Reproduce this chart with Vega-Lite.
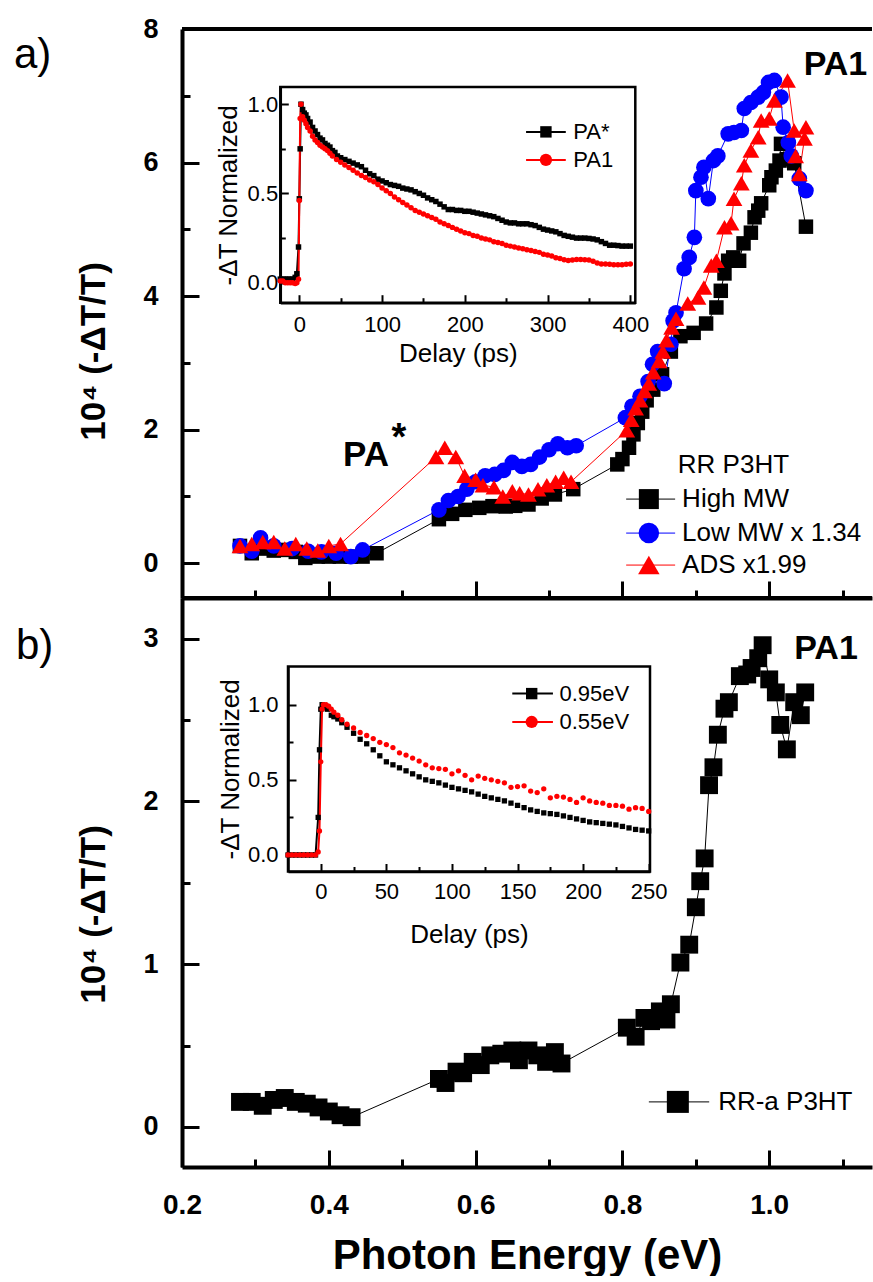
{
"$schema":"https://vega.github.io/schema/vega-lite/v6.json",
"background":"white",
"padding":{"left":13,"top":15,"right":0,"bottom":0},
"bounds":"flush",
"spacing":0,
"resolve":{"scale":{"color":"independent","shape":"independent","size":"independent"}},
"config":{"view":{"stroke":null},"font":"Liberation Sans","axis":{"grid":false,"domainColor":"black","tickColor":"black","labelColor":"black","titleColor":"black","labelFlush":false,"labelOverlap":false,"labelFont":"Liberation Sans","titleFont":"Liberation Sans"}},
"datasets":{
"mainA":[
{"s":"High MW","E":0.279,"v":0.26},{"s":"High MW","E":0.295,"v":0.15},{"s":"High MW","E":0.31,"v":0.22},{"s":"High MW","E":0.325,"v":0.19},{"s":"High MW","E":0.34,"v":0.2},{"s":"High MW","E":0.355,"v":0.17},{"s":"High MW","E":0.368,"v":0.08},{"s":"High MW","E":0.385,"v":0.1},{"s":"High MW","E":0.4,"v":0.1},{"s":"High MW","E":0.415,"v":0.1},{"s":"High MW","E":0.43,"v":0.1},{"s":"High MW","E":0.446,"v":0.1},{"s":"High MW","E":0.465,"v":0.15},{"s":"High MW","E":0.55,"v":0.66},{"s":"High MW","E":0.568,"v":0.74},{"s":"High MW","E":0.586,"v":0.8},{"s":"High MW","E":0.605,"v":0.83},{"s":"High MW","E":0.623,"v":0.855},{"s":"High MW","E":0.641,"v":0.85},{"s":"High MW","E":0.654,"v":0.86},{"s":"High MW","E":0.672,"v":0.88},{"s":"High MW","E":0.69,"v":0.97},{"s":"High MW","E":0.708,"v":1.03},{"s":"High MW","E":0.733,"v":1.11},{"s":"High MW","E":0.793,"v":1.48},{"s":"High MW","E":0.8,"v":1.56},{"s":"High MW","E":0.809,"v":1.73},{"s":"High MW","E":0.815,"v":1.93},{"s":"High MW","E":0.821,"v":2.1},{"s":"High MW","E":0.827,"v":2.27},{"s":"High MW","E":0.833,"v":2.44},{"s":"High MW","E":0.842,"v":2.6},{"s":"High MW","E":0.854,"v":2.83},{"s":"High MW","E":0.866,"v":3.17},{"s":"High MW","E":0.879,"v":3.4},{"s":"High MW","E":0.897,"v":3.45},{"s":"High MW","E":0.914,"v":3.59},{"s":"High MW","E":0.928,"v":3.83},{"s":"High MW","E":0.934,"v":4.08},{"s":"High MW","E":0.939,"v":4.34},{"s":"High MW","E":0.944,"v":4.53},{"s":"High MW","E":0.951,"v":4.58},{"s":"High MW","E":0.959,"v":4.53},{"s":"High MW","E":0.965,"v":4.79},{"s":"High MW","E":0.975,"v":4.95},{"s":"High MW","E":0.98,"v":5.18},{"s":"High MW","E":0.985,"v":5.28},{"s":"High MW","E":0.989,"v":5.39},{"s":"High MW","E":1.0,"v":5.66},{"s":"High MW","E":1.003,"v":5.78},{"s":"High MW","E":1.009,"v":5.88},{"s":"High MW","E":1.014,"v":6.03},{"s":"High MW","E":1.016,"v":6.28},{"s":"High MW","E":1.024,"v":6.05},{"s":"High MW","E":1.034,"v":5.99},{"s":"High MW","E":1.05,"v":5.04},
{"s":"Low MW x 1.34","E":0.279,"v":0.26},{"s":"Low MW x 1.34","E":0.295,"v":0.18},{"s":"Low MW x 1.34","E":0.307,"v":0.38},{"s":"Low MW x 1.34","E":0.325,"v":0.26},{"s":"Low MW x 1.34","E":0.35,"v":0.22},{"s":"Low MW x 1.34","E":0.372,"v":0.18},{"s":"Low MW x 1.34","E":0.39,"v":0.17},{"s":"Low MW x 1.34","E":0.41,"v":0.15},{"s":"Low MW x 1.34","E":0.43,"v":0.1},{"s":"Low MW x 1.34","E":0.446,"v":0.2},{"s":"Low MW x 1.34","E":0.55,"v":0.8},{"s":"Low MW x 1.34","E":0.563,"v":0.94},{"s":"Low MW x 1.34","E":0.576,"v":1.0},{"s":"Low MW x 1.34","E":0.588,"v":1.11},{"s":"Low MW x 1.34","E":0.6,"v":1.22},{"s":"Low MW x 1.34","E":0.613,"v":1.31},{"s":"Low MW x 1.34","E":0.626,"v":1.33},{"s":"Low MW x 1.34","E":0.638,"v":1.39},{"s":"Low MW x 1.34","E":0.65,"v":1.51},{"s":"Low MW x 1.34","E":0.663,"v":1.45},{"s":"Low MW x 1.34","E":0.675,"v":1.48},{"s":"Low MW x 1.34","E":0.687,"v":1.59},{"s":"Low MW x 1.34","E":0.7,"v":1.7},{"s":"Low MW x 1.34","E":0.712,"v":1.79},{"s":"Low MW x 1.34","E":0.725,"v":1.73},{"s":"Low MW x 1.34","E":0.737,"v":1.76},{"s":"Low MW x 1.34","E":0.804,"v":2.18},{"s":"Low MW x 1.34","E":0.813,"v":2.35},{"s":"Low MW x 1.34","E":0.824,"v":2.5},{"s":"Low MW x 1.34","E":0.835,"v":2.72},{"s":"Low MW x 1.34","E":0.841,"v":2.98},{"s":"Low MW x 1.34","E":0.848,"v":3.17},{"s":"Low MW x 1.34","E":0.857,"v":2.69},{"s":"Low MW x 1.34","E":0.866,"v":3.28},{"s":"Low MW x 1.34","E":0.869,"v":3.63},{"s":"Low MW x 1.34","E":0.873,"v":3.75},{"s":"Low MW x 1.34","E":0.884,"v":4.41},{"s":"Low MW x 1.34","E":0.891,"v":4.58},{"s":"Low MW x 1.34","E":0.898,"v":4.88},{"s":"Low MW x 1.34","E":0.9,"v":5.58},{"s":"Low MW x 1.34","E":0.907,"v":5.78},{"s":"Low MW x 1.34","E":0.911,"v":5.93},{"s":"Low MW x 1.34","E":0.917,"v":5.46},{"s":"Low MW x 1.34","E":0.924,"v":6.03},{"s":"Low MW x 1.34","E":0.93,"v":6.1},{"s":"Low MW x 1.34","E":0.944,"v":6.43},{"s":"Low MW x 1.34","E":0.952,"v":6.45},{"s":"Low MW x 1.34","E":0.962,"v":6.48},{"s":"Low MW x 1.34","E":0.966,"v":6.81},{"s":"Low MW x 1.34","E":0.975,"v":6.9},{"s":"Low MW x 1.34","E":0.985,"v":6.98},{"s":"Low MW x 1.34","E":0.992,"v":7.05},{"s":"Low MW x 1.34","E":0.999,"v":7.2},{"s":"Low MW x 1.34","E":1.007,"v":7.23},{"s":"Low MW x 1.34","E":1.016,"v":6.98},{"s":"Low MW x 1.34","E":1.019,"v":6.53},{"s":"Low MW x 1.34","E":1.026,"v":6.3},{"s":"Low MW x 1.34","E":1.03,"v":6.1},{"s":"Low MW x 1.34","E":1.041,"v":5.76},{"s":"Low MW x 1.34","E":1.05,"v":5.58},
{"s":"ADS x1.99","E":0.279,"v":0.26},{"s":"ADS x1.99","E":0.295,"v":0.29},{"s":"ADS x1.99","E":0.31,"v":0.32},{"s":"ADS x1.99","E":0.325,"v":0.32},{"s":"ADS x1.99","E":0.34,"v":0.22},{"s":"ADS x1.99","E":0.355,"v":0.29},{"s":"ADS x1.99","E":0.37,"v":0.22},{"s":"ADS x1.99","E":0.385,"v":0.19},{"s":"ADS x1.99","E":0.4,"v":0.26},{"s":"ADS x1.99","E":0.416,"v":0.29},{"s":"ADS x1.99","E":0.546,"v":1.59},{"s":"ADS x1.99","E":0.558,"v":1.73},{"s":"ADS x1.99","E":0.573,"v":1.59},{"s":"ADS x1.99","E":0.585,"v":1.31},{"s":"ADS x1.99","E":0.6,"v":1.25},{"s":"ADS x1.99","E":0.61,"v":1.17},{"s":"ADS x1.99","E":0.625,"v":1.14},{"s":"ADS x1.99","E":0.637,"v":1.0},{"s":"ADS x1.99","E":0.65,"v":1.08},{"s":"ADS x1.99","E":0.66,"v":1.05},{"s":"ADS x1.99","E":0.672,"v":1.03},{"s":"ADS x1.99","E":0.685,"v":1.11},{"s":"ADS x1.99","E":0.697,"v":1.17},{"s":"ADS x1.99","E":0.709,"v":1.22},{"s":"ADS x1.99","E":0.72,"v":1.28},{"s":"ADS x1.99","E":0.73,"v":1.22},{"s":"ADS x1.99","E":0.806,"v":1.99},{"s":"ADS x1.99","E":0.812,"v":2.15},{"s":"ADS x1.99","E":0.818,"v":2.32},{"s":"ADS x1.99","E":0.824,"v":2.44},{"s":"ADS x1.99","E":0.83,"v":2.58},{"s":"ADS x1.99","E":0.836,"v":2.69},{"s":"ADS x1.99","E":0.842,"v":2.86},{"s":"ADS x1.99","E":0.85,"v":3.03},{"s":"ADS x1.99","E":0.855,"v":3.17},{"s":"ADS x1.99","E":0.86,"v":3.34},{"s":"ADS x1.99","E":0.867,"v":3.53},{"s":"ADS x1.99","E":0.873,"v":3.66},{"s":"ADS x1.99","E":0.889,"v":3.89},{"s":"ADS x1.99","E":0.903,"v":3.98},{"s":"ADS x1.99","E":0.911,"v":4.13},{"s":"ADS x1.99","E":0.921,"v":4.46},{"s":"ADS x1.99","E":0.928,"v":4.53},{"s":"ADS x1.99","E":0.939,"v":5.03},{"s":"ADS x1.99","E":0.948,"v":5.09},{"s":"ADS x1.99","E":0.952,"v":5.46},{"s":"ADS x1.99","E":0.962,"v":5.69},{"s":"ADS x1.99","E":0.966,"v":5.96},{"s":"ADS x1.99","E":0.975,"v":6.18},{"s":"ADS x1.99","E":0.985,"v":6.38},{"s":"ADS x1.99","E":0.989,"v":6.63},{"s":"ADS x1.99","E":1.0,"v":6.66},{"s":"ADS x1.99","E":1.007,"v":6.93},{"s":"ADS x1.99","E":1.025,"v":7.23},{"s":"ADS x1.99","E":1.034,"v":6.48},{"s":"ADS x1.99","E":1.036,"v":6.1},{"s":"ADS x1.99","E":1.041,"v":5.83},{"s":"ADS x1.99","E":1.048,"v":6.36},{"s":"ADS x1.99","E":1.05,"v":6.53}
],
"mainB":[
{"E":0.279,"v":0.154},{"E":0.295,"v":0.154},{"E":0.31,"v":0.13},{"E":0.325,"v":0.166},{"E":0.34,"v":0.178},{"E":0.355,"v":0.154},{"E":0.37,"v":0.143},{"E":0.386,"v":0.12},{"E":0.4,"v":0.095},{"E":0.416,"v":0.072},{"E":0.431,"v":0.06},{"E":0.55,"v":0.295},{"E":0.559,"v":0.27},{"E":0.574,"v":0.34},{"E":0.583,"v":0.33},{"E":0.596,"v":0.4},{"E":0.607,"v":0.38},{"E":0.62,"v":0.44},{"E":0.635,"v":0.45},{"E":0.65,"v":0.47},{"E":0.659,"v":0.41},{"E":0.672,"v":0.47},{"E":0.684,"v":0.44},{"E":0.696,"v":0.4},{"E":0.708,"v":0.46},{"E":0.717,"v":0.39},{"E":0.806,"v":0.61},{"E":0.818,"v":0.555},{"E":0.83,"v":0.67},{"E":0.839,"v":0.65},{"E":0.851,"v":0.71},{"E":0.86,"v":0.66},{"E":0.866,"v":0.754},{"E":0.879,"v":1.01},{"E":0.891,"v":1.12},{"E":0.9,"v":1.35},{"E":0.906,"v":1.51},{"E":0.912,"v":1.65},{"E":0.918,"v":2.1},{"E":0.924,"v":2.21},{"E":0.93,"v":2.41},{"E":0.939,"v":2.57},{"E":0.945,"v":2.61},{"E":0.96,"v":2.77},{"E":0.97,"v":2.78},{"E":0.976,"v":2.82},{"E":0.985,"v":2.88},{"E":0.991,"v":2.96},{"E":1.0,"v":2.75},{"E":1.009,"v":2.67},{"E":1.015,"v":2.47},{"E":1.024,"v":2.32},{"E":1.034,"v":2.61},{"E":1.043,"v":2.53},{"E":1.049,"v":2.67}
],
"insetA":[
{"s":"PA*","t":-23,"v":0.02},{"s":"PA*","t":-20,"v":0.02},{"s":"PA*","t":-17,"v":0.02},{"s":"PA*","t":-14,"v":0.02},{"s":"PA*","t":-11,"v":0.02},{"s":"PA*","t":-8,"v":0.02},{"s":"PA*","t":-5,"v":0.03},{"s":"PA*","t":-3,"v":0.05},{"s":"PA*","t":-1,"v":0.2},{"s":"PA*","t":0,"v":0.47},{"s":"PA*","t":1,"v":0.75},{"s":"PA*","t":2,"v":1.0},{"s":"PA*","t":4,"v":0.97},{"s":"PA*","t":6,"v":0.95},{"s":"PA*","t":8,"v":0.94},{"s":"PA*","t":10,"v":0.92},{"s":"PA*","t":13,"v":0.9},{"s":"PA*","t":16,"v":0.87},{"s":"PA*","t":19,"v":0.85},{"s":"PA*","t":22,"v":0.83},{"s":"PA*","t":25,"v":0.81},{"s":"PA*","t":28,"v":0.8},{"s":"PA*","t":31,"v":0.78},{"s":"PA*","t":34,"v":0.77},{"s":"PA*","t":37,"v":0.76},{"s":"PA*","t":40,"v":0.74},{"s":"PA*","t":43,"v":0.73},{"s":"PA*","t":46,"v":0.71},{"s":"PA*","t":50,"v":0.7},{"s":"PA*","t":55,"v":0.69},{"s":"PA*","t":60,"v":0.68},{"s":"PA*","t":65,"v":0.67},{"s":"PA*","t":70,"v":0.66},{"s":"PA*","t":75,"v":0.65},{"s":"PA*","t":80,"v":0.63},{"s":"PA*","t":85,"v":0.61},{"s":"PA*","t":90,"v":0.6},{"s":"PA*","t":95,"v":0.58},{"s":"PA*","t":100,"v":0.57},{"s":"PA*","t":105,"v":0.56},{"s":"PA*","t":110,"v":0.55},{"s":"PA*","t":115,"v":0.545},{"s":"PA*","t":120,"v":0.54},{"s":"PA*","t":125,"v":0.53},{"s":"PA*","t":130,"v":0.525},{"s":"PA*","t":135,"v":0.52},{"s":"PA*","t":140,"v":0.51},{"s":"PA*","t":145,"v":0.5},{"s":"PA*","t":150,"v":0.49},{"s":"PA*","t":155,"v":0.475},{"s":"PA*","t":160,"v":0.465},{"s":"PA*","t":165,"v":0.455},{"s":"PA*","t":170,"v":0.44},{"s":"PA*","t":175,"v":0.425},{"s":"PA*","t":180,"v":0.41},{"s":"PA*","t":185,"v":0.41},{"s":"PA*","t":190,"v":0.405},{"s":"PA*","t":195,"v":0.405},{"s":"PA*","t":200,"v":0.4},{"s":"PA*","t":205,"v":0.4},{"s":"PA*","t":210,"v":0.395},{"s":"PA*","t":215,"v":0.39},{"s":"PA*","t":220,"v":0.385},{"s":"PA*","t":225,"v":0.38},{"s":"PA*","t":230,"v":0.375},{"s":"PA*","t":235,"v":0.37},{"s":"PA*","t":240,"v":0.36},{"s":"PA*","t":245,"v":0.35},{"s":"PA*","t":250,"v":0.34},{"s":"PA*","t":255,"v":0.335},{"s":"PA*","t":260,"v":0.335},{"s":"PA*","t":265,"v":0.33},{"s":"PA*","t":270,"v":0.33},{"s":"PA*","t":275,"v":0.33},{"s":"PA*","t":280,"v":0.325},{"s":"PA*","t":285,"v":0.32},{"s":"PA*","t":290,"v":0.31},{"s":"PA*","t":295,"v":0.3},{"s":"PA*","t":300,"v":0.295},{"s":"PA*","t":305,"v":0.29},{"s":"PA*","t":310,"v":0.285},{"s":"PA*","t":315,"v":0.275},{"s":"PA*","t":320,"v":0.265},{"s":"PA*","t":325,"v":0.26},{"s":"PA*","t":330,"v":0.255},{"s":"PA*","t":335,"v":0.25},{"s":"PA*","t":340,"v":0.25},{"s":"PA*","t":345,"v":0.25},{"s":"PA*","t":350,"v":0.248},{"s":"PA*","t":355,"v":0.245},{"s":"PA*","t":360,"v":0.24},{"s":"PA*","t":365,"v":0.23},{"s":"PA*","t":370,"v":0.22},{"s":"PA*","t":375,"v":0.21},{"s":"PA*","t":380,"v":0.21},{"s":"PA*","t":385,"v":0.208},{"s":"PA*","t":390,"v":0.205},{"s":"PA*","t":395,"v":0.205},{"s":"PA*","t":400,"v":0.205},
{"s":"PA1","t":-23,"v":0.01},{"s":"PA1","t":-20,"v":0.01},{"s":"PA1","t":-17,"v":0.0},{"s":"PA1","t":-14,"v":0.0},{"s":"PA1","t":-11,"v":0.0},{"s":"PA1","t":-8,"v":0.0},{"s":"PA1","t":-5,"v":-0.005},{"s":"PA1","t":-3,"v":0.0},{"s":"PA1","t":-1,"v":0.02},{"s":"PA1","t":0,"v":0.46},{"s":"PA1","t":1,"v":0.92},{"s":"PA1","t":2,"v":1.0},{"s":"PA1","t":4,"v":0.93},{"s":"PA1","t":6,"v":0.91},{"s":"PA1","t":8,"v":0.89},{"s":"PA1","t":10,"v":0.87},{"s":"PA1","t":13,"v":0.85},{"s":"PA1","t":16,"v":0.82},{"s":"PA1","t":19,"v":0.8},{"s":"PA1","t":22,"v":0.785},{"s":"PA1","t":25,"v":0.77},{"s":"PA1","t":28,"v":0.76},{"s":"PA1","t":31,"v":0.75},{"s":"PA1","t":34,"v":0.74},{"s":"PA1","t":37,"v":0.725},{"s":"PA1","t":40,"v":0.71},{"s":"PA1","t":45,"v":0.69},{"s":"PA1","t":50,"v":0.675},{"s":"PA1","t":55,"v":0.66},{"s":"PA1","t":60,"v":0.645},{"s":"PA1","t":65,"v":0.63},{"s":"PA1","t":70,"v":0.615},{"s":"PA1","t":75,"v":0.6},{"s":"PA1","t":80,"v":0.59},{"s":"PA1","t":85,"v":0.575},{"s":"PA1","t":90,"v":0.565},{"s":"PA1","t":95,"v":0.55},{"s":"PA1","t":100,"v":0.53},{"s":"PA1","t":105,"v":0.515},{"s":"PA1","t":110,"v":0.5},{"s":"PA1","t":115,"v":0.48},{"s":"PA1","t":120,"v":0.465},{"s":"PA1","t":125,"v":0.45},{"s":"PA1","t":130,"v":0.435},{"s":"PA1","t":135,"v":0.42},{"s":"PA1","t":140,"v":0.405},{"s":"PA1","t":145,"v":0.395},{"s":"PA1","t":150,"v":0.385},{"s":"PA1","t":155,"v":0.375},{"s":"PA1","t":160,"v":0.365},{"s":"PA1","t":165,"v":0.355},{"s":"PA1","t":170,"v":0.34},{"s":"PA1","t":175,"v":0.33},{"s":"PA1","t":180,"v":0.32},{"s":"PA1","t":185,"v":0.31},{"s":"PA1","t":190,"v":0.3},{"s":"PA1","t":195,"v":0.29},{"s":"PA1","t":200,"v":0.28},{"s":"PA1","t":205,"v":0.275},{"s":"PA1","t":210,"v":0.265},{"s":"PA1","t":215,"v":0.26},{"s":"PA1","t":220,"v":0.25},{"s":"PA1","t":225,"v":0.245},{"s":"PA1","t":230,"v":0.24},{"s":"PA1","t":235,"v":0.23},{"s":"PA1","t":240,"v":0.225},{"s":"PA1","t":245,"v":0.22},{"s":"PA1","t":250,"v":0.21},{"s":"PA1","t":255,"v":0.205},{"s":"PA1","t":260,"v":0.2},{"s":"PA1","t":265,"v":0.195},{"s":"PA1","t":270,"v":0.19},{"s":"PA1","t":275,"v":0.185},{"s":"PA1","t":280,"v":0.18},{"s":"PA1","t":285,"v":0.175},{"s":"PA1","t":290,"v":0.17},{"s":"PA1","t":295,"v":0.16},{"s":"PA1","t":300,"v":0.155},{"s":"PA1","t":305,"v":0.15},{"s":"PA1","t":310,"v":0.14},{"s":"PA1","t":315,"v":0.135},{"s":"PA1","t":320,"v":0.128},{"s":"PA1","t":325,"v":0.125},{"s":"PA1","t":330,"v":0.127},{"s":"PA1","t":335,"v":0.13},{"s":"PA1","t":340,"v":0.13},{"s":"PA1","t":345,"v":0.128},{"s":"PA1","t":350,"v":0.127},{"s":"PA1","t":355,"v":0.12},{"s":"PA1","t":360,"v":0.11},{"s":"PA1","t":365,"v":0.105},{"s":"PA1","t":370,"v":0.105},{"s":"PA1","t":375,"v":0.103},{"s":"PA1","t":380,"v":0.1},{"s":"PA1","t":385,"v":0.1},{"s":"PA1","t":390,"v":0.1},{"s":"PA1","t":395,"v":0.103},{"s":"PA1","t":400,"v":0.105}
],
"insetB":[
{"s":"0.95eV","t":-25,"v":0.0},{"s":"0.95eV","t":-22,"v":0.0},{"s":"0.95eV","t":-19,"v":0.0},{"s":"0.95eV","t":-16,"v":0.0},{"s":"0.95eV","t":-13,"v":0.0},{"s":"0.95eV","t":-10,"v":0.0},{"s":"0.95eV","t":-7,"v":0.0},{"s":"0.95eV","t":-4,"v":0.0},{"s":"0.95eV","t":-2,"v":0.25},{"s":"0.95eV","t":-1,"v":0.7},{"s":"0.95eV","t":0,"v":0.97},{"s":"0.95eV","t":1,"v":1.0},{"s":"0.95eV","t":3,"v":0.98},{"s":"0.95eV","t":5,"v":0.97},{"s":"0.95eV","t":8,"v":0.93},{"s":"0.95eV","t":10,"v":0.92},{"s":"0.95eV","t":13,"v":0.905},{"s":"0.95eV","t":16,"v":0.88},{"s":"0.95eV","t":20,"v":0.85},{"s":"0.95eV","t":25,"v":0.81},{"s":"0.95eV","t":30,"v":0.77},{"s":"0.95eV","t":35,"v":0.74},{"s":"0.95eV","t":40,"v":0.7},{"s":"0.95eV","t":45,"v":0.66},{"s":"0.95eV","t":50,"v":0.62},{"s":"0.95eV","t":55,"v":0.6},{"s":"0.95eV","t":60,"v":0.58},{"s":"0.95eV","t":65,"v":0.56},{"s":"0.95eV","t":70,"v":0.54},{"s":"0.95eV","t":75,"v":0.52},{"s":"0.95eV","t":80,"v":0.5},{"s":"0.95eV","t":85,"v":0.49},{"s":"0.95eV","t":90,"v":0.48},{"s":"0.95eV","t":95,"v":0.465},{"s":"0.95eV","t":100,"v":0.45},{"s":"0.95eV","t":105,"v":0.44},{"s":"0.95eV","t":110,"v":0.43},{"s":"0.95eV","t":115,"v":0.42},{"s":"0.95eV","t":120,"v":0.405},{"s":"0.95eV","t":125,"v":0.39},{"s":"0.95eV","t":130,"v":0.38},{"s":"0.95eV","t":135,"v":0.37},{"s":"0.95eV","t":140,"v":0.36},{"s":"0.95eV","t":145,"v":0.345},{"s":"0.95eV","t":150,"v":0.33},{"s":"0.95eV","t":155,"v":0.315},{"s":"0.95eV","t":160,"v":0.3},{"s":"0.95eV","t":165,"v":0.29},{"s":"0.95eV","t":170,"v":0.28},{"s":"0.95eV","t":175,"v":0.275},{"s":"0.95eV","t":180,"v":0.27},{"s":"0.95eV","t":185,"v":0.26},{"s":"0.95eV","t":190,"v":0.25},{"s":"0.95eV","t":195,"v":0.24},{"s":"0.95eV","t":200,"v":0.23},{"s":"0.95eV","t":205,"v":0.22},{"s":"0.95eV","t":210,"v":0.215},{"s":"0.95eV","t":215,"v":0.21},{"s":"0.95eV","t":220,"v":0.205},{"s":"0.95eV","t":225,"v":0.2},{"s":"0.95eV","t":230,"v":0.19},{"s":"0.95eV","t":235,"v":0.18},{"s":"0.95eV","t":240,"v":0.17},{"s":"0.95eV","t":245,"v":0.165},{"s":"0.95eV","t":250,"v":0.16},
{"s":"0.55eV","t":-25,"v":0.0},{"s":"0.55eV","t":-22,"v":0.0},{"s":"0.55eV","t":-19,"v":0.0},{"s":"0.55eV","t":-16,"v":0.0},{"s":"0.55eV","t":-13,"v":0.0},{"s":"0.55eV","t":-10,"v":0.0},{"s":"0.55eV","t":-7,"v":0.0},{"s":"0.55eV","t":-4,"v":0.0},{"s":"0.55eV","t":-2,"v":0.02},{"s":"0.55eV","t":-1,"v":0.16},{"s":"0.55eV","t":0,"v":0.62},{"s":"0.55eV","t":1,"v":0.97},{"s":"0.55eV","t":2,"v":1.0},{"s":"0.55eV","t":4,"v":1.0},{"s":"0.55eV","t":6,"v":0.99},{"s":"0.55eV","t":8,"v":0.97},{"s":"0.55eV","t":10,"v":0.95},{"s":"0.55eV","t":13,"v":0.93},{"s":"0.55eV","t":16,"v":0.9},{"s":"0.55eV","t":20,"v":0.87},{"s":"0.55eV","t":25,"v":0.845},{"s":"0.55eV","t":30,"v":0.815},{"s":"0.55eV","t":35,"v":0.795},{"s":"0.55eV","t":40,"v":0.775},{"s":"0.55eV","t":45,"v":0.75},{"s":"0.55eV","t":50,"v":0.735},{"s":"0.55eV","t":55,"v":0.715},{"s":"0.55eV","t":60,"v":0.68},{"s":"0.55eV","t":65,"v":0.665},{"s":"0.55eV","t":70,"v":0.645},{"s":"0.55eV","t":75,"v":0.625},{"s":"0.55eV","t":80,"v":0.6},{"s":"0.55eV","t":85,"v":0.58},{"s":"0.55eV","t":90,"v":0.575},{"s":"0.55eV","t":95,"v":0.57},{"s":"0.55eV","t":100,"v":0.54},{"s":"0.55eV","t":105,"v":0.56},{"s":"0.55eV","t":110,"v":0.53},{"s":"0.55eV","t":115,"v":0.5},{"s":"0.55eV","t":120,"v":0.525},{"s":"0.55eV","t":125,"v":0.51},{"s":"0.55eV","t":130,"v":0.5},{"s":"0.55eV","t":135,"v":0.49},{"s":"0.55eV","t":140,"v":0.48},{"s":"0.55eV","t":145,"v":0.45},{"s":"0.55eV","t":150,"v":0.455},{"s":"0.55eV","t":155,"v":0.46},{"s":"0.55eV","t":160,"v":0.425},{"s":"0.55eV","t":165,"v":0.415},{"s":"0.55eV","t":170,"v":0.44},{"s":"0.55eV","t":175,"v":0.38},{"s":"0.55eV","t":180,"v":0.39},{"s":"0.55eV","t":185,"v":0.385},{"s":"0.55eV","t":190,"v":0.37},{"s":"0.55eV","t":195,"v":0.35},{"s":"0.55eV","t":200,"v":0.38},{"s":"0.55eV","t":205,"v":0.36},{"s":"0.55eV","t":210,"v":0.35},{"s":"0.55eV","t":215,"v":0.345},{"s":"0.55eV","t":220,"v":0.33},{"s":"0.55eV","t":225,"v":0.33},{"s":"0.55eV","t":230,"v":0.325},{"s":"0.55eV","t":235,"v":0.305},{"s":"0.55eV","t":240,"v":0.315},{"s":"0.55eV","t":245,"v":0.31},{"s":"0.55eV","t":250,"v":0.29}
]
},
"vconcat":[
{
"width":690,"height":569,
"resolve":{"scale":{"x":"independent","y":"independent","color":"independent","shape":"independent","size":"independent"},"axis":{"x":"independent","y":"independent"}},
"layer":[
{"layer":[
{"data":{"name":"mainA"},"mark":{"type":"line","strokeWidth":1},
 "encoding":{
  "x":{"field":"E","type":"quantitative","scale":{"domain":[0.2,1.14],"nice":false,"zero":false},
   "axis":{"orient":"bottom","values":[0.2,0.3,0.4,0.5,0.6,0.7,0.8,0.9,1.0,1.1],"labels":false,"title":null,"domainWidth":4,"tickWidth":3,"tickSize":{"condition":{"test":"round(datum.value*10)%2==0","value":-17},"value":-8}}},
  "y":{"field":"v","type":"quantitative","scale":{"domain":[-0.52,8],"nice":false,"zero":false},
   "axis":{"orient":"left","values":[0,1,2,3,4,5,6,7,8],"labelExpr":"datum.value%2==0 ? format(datum.value,'d') : ''","labelFontSize":27,"labelFontWeight":"bold","labelPadding":41,"domainWidth":4,"tickWidth":3,"tickSize":{"condition":{"test":"datum.value%2==0","value":-17},"value":-8},"title":"10⁴ (-ΔT/T)","titleFontSize":35,"titleFontWeight":"bold","titleX":-71,"titleY":322,"titleBaseline":"bottom"}},
  "color":{"field":"s","type":"nominal","scale":{"domain":["High MW","Low MW x 1.34","ADS x1.99"],"range":["#000000","#0000ff","#ff0000"]},"legend":null}}},
{"data":{"name":"mainA"},"mark":{"type":"point","filled":true,"opacity":1},
 "encoding":{
  "x":{"field":"E","type":"quantitative","scale":{"domain":[0.2,1.14],"nice":false,"zero":false}},
  "y":{"field":"v","type":"quantitative","scale":{"domain":[-0.52,8],"nice":false,"zero":false}},
  "color":{"field":"s","type":"nominal","scale":{"domain":["High MW","Low MW x 1.34","ADS x1.99"],"range":["#000000","#0000ff","#ff0000"]},"legend":null},
  "shape":{"field":"s","type":"nominal","scale":{"domain":["High MW","Low MW x 1.34","ADS x1.99"],"range":["square","circle","triangle-up"]},"legend":null},
  "size":{"field":"s","type":"nominal","scale":{"domain":["High MW","Low MW x 1.34","ADS x1.99"],"range":[210,280,320]},"legend":null}}},
{"data":{"values":[{}]},"mark":{"type":"rule","strokeWidth":4,"color":"black"},"encoding":{"y":{"datum":8}}},
{"data":{"values":[{}]},"mark":{"type":"text","fontSize":42,"fontWeight":"normal","align":"left","baseline":"middle","color":"black"},"encoding":{"x":{"datum":-0.0289},"y":{"datum":7.61},"text":{"value":"a)"}}},
{"data":{"values":[{}]},"mark":{"type":"text","fontSize":34,"fontWeight":"bold","align":"left","baseline":"middle","color":"black"},"encoding":{"x":{"datum":1.0469},"y":{"datum":7.46},"text":{"value":"PA1"}}},
{"data":{"values":[{}]},"mark":{"type":"text","fontSize":35,"fontWeight":"bold","align":"left","baseline":"middle","color":"black"},"encoding":{"x":{"datum":0.4194},"y":{"datum":1.62},"text":{"value":"PA"}}},
{"data":{"values":[{}]},"mark":{"type":"text","fontSize":38,"fontWeight":"bold","align":"left","baseline":"alphabetic","color":"black"},"encoding":{"x":{"datum":0.4855},"y":{"datum":1.7},"text":{"value":"*"}}},
{"data":{"values":[{}]},"mark":{"type":"text","fontSize":26,"align":"left","baseline":"middle","color":"black"},"encoding":{"x":{"datum":0.8755},"y":{"datum":1.47},"text":{"value":"RR P3HT"}}},
{"data":{"values":[{}]},"mark":{"type":"rule","strokeWidth":1,"color":"black"},"encoding":{"x":{"datum":0.8051},"x2":{"datum":0.8718},"y":{"datum":0.961}}},
{"data":{"values":[{}]},"mark":{"type":"point","shape":"square","filled":true,"opacity":1,"size":400,"color":"black"},"encoding":{"x":{"datum":0.836},"y":{"datum":0.961}}},
{"data":{"values":[{}]},"mark":{"type":"text","fontSize":26,"align":"left","baseline":"middle","color":"black"},"encoding":{"x":{"datum":0.8813},"y":{"datum":0.961},"text":{"value":"High MW"}}},
{"data":{"values":[{}]},"mark":{"type":"rule","strokeWidth":1,"color":"#0000ff"},"encoding":{"x":{"datum":0.8051},"x2":{"datum":0.8718},"y":{"datum":0.452}}},
{"data":{"values":[{}]},"mark":{"type":"point","shape":"circle","filled":true,"opacity":1,"size":420,"color":"#0000ff"},"encoding":{"x":{"datum":0.836},"y":{"datum":0.452}}},
{"data":{"values":[{}]},"mark":{"type":"text","fontSize":26,"align":"left","baseline":"middle","color":"black"},"encoding":{"x":{"datum":0.8813},"y":{"datum":0.452},"text":{"value":"Low MW x 1.34"}}},
{"data":{"values":[{}]},"mark":{"type":"rule","strokeWidth":1,"color":"#ff0000"},"encoding":{"x":{"datum":0.8051},"x2":{"datum":0.8718},"y":{"datum":-0.027}}},
{"data":{"values":[{}]},"mark":{"type":"point","shape":"triangle-up","filled":true,"opacity":1,"size":460,"color":"#ff0000"},"encoding":{"x":{"datum":0.836},"y":{"datum":-0.027}}},
{"data":{"values":[{}]},"mark":{"type":"text","fontSize":26,"align":"left","baseline":"middle","color":"black"},"encoding":{"x":{"datum":0.8813},"y":{"datum":-0.027},"text":{"value":"ADS x1.99"}}}
]},
{"layer":[
{"data":{"values":[{}]},"mark":{"type":"rect","filled":false,"stroke":"black","strokeWidth":2.5},
 "encoding":{
  "x":{"datum":-23,"type":"quantitative","scale":{"domain":[-23,406],"range":[98.3,453.3],"nice":false,"zero":false},
   "axis":{"orient":"bottom","offset":-295.3,"values":[0,50,100,150,200,250,300,350,400],"labelExpr":"datum.value%100==0 ? datum.label : ''","labelFontSize":22,"labelPadding":20,"domainWidth":2.5,"tickWidth":2,"tickSize":{"condition":{"test":"datum.value%100==0","value":-8},"value":-5},"title":"Delay (ps)","titleFontSize":26,"titleFontWeight":"normal","titlePadding":2}},
  "x2":{"datum":406},
  "y":{"datum":-0.112,"type":"quantitative","scale":{"domain":[-0.112,1.097],"range":[273.7,57.9],"nice":false,"zero":false},
   "axis":{"orient":"left","offset":-98.3,"values":[0,0.25,0.5,0.75,1],"labelExpr":"(datum.value*2)%1==0 ? format(datum.value,'.1f') : ''","labelFontSize":22,"labelPadding":10.6,"domainWidth":2.5,"tickWidth":2,"tickSize":{"condition":{"test":"(datum.value*2)%1==0","value":-8},"value":-5},"title":"-ΔT Normalized","titleFontSize":26,"titleFontWeight":"normal","titlePadding":6}},
  "y2":{"datum":1.097}}},
{"data":{"name":"insetA"},"mark":{"type":"line","strokeWidth":2},
 "encoding":{
  "x":{"field":"t","type":"quantitative"},
  "y":{"field":"v","type":"quantitative"},
  "color":{"field":"s","type":"nominal","scale":{"domain":["PA*","PA1"],"range":["#000000","#ff0000"]},"legend":null}}},
{"data":{"name":"insetA"},"mark":{"type":"point","filled":true,"opacity":1,"size":30},
 "encoding":{
  "x":{"field":"t","type":"quantitative"},
  "y":{"field":"v","type":"quantitative"},
  "color":{"field":"s","type":"nominal","scale":{"domain":["PA*","PA1"],"range":["#000000","#ff0000"]},"legend":null},
  "shape":{"field":"s","type":"nominal","scale":{"domain":["PA*","PA1"],"range":["square","circle"]},"legend":null}}},
{"data":{"values":[{}]},"mark":{"type":"rule","strokeWidth":2,"color":"black"},"encoding":{"x":{"datum":274},"x2":{"datum":322},"y":{"datum":0.845}}},
{"data":{"values":[{}]},"mark":{"type":"point","shape":"square","filled":true,"opacity":1,"size":130,"color":"black"},"encoding":{"x":{"datum":298},"y":{"datum":0.845}}},
{"data":{"values":[{}]},"mark":{"type":"text","fontSize":22,"align":"left","baseline":"middle","color":"black"},"encoding":{"x":{"datum":331},"y":{"datum":0.845},"text":{"value":"PA*"}}},
{"data":{"values":[{}]},"mark":{"type":"rule","strokeWidth":2,"color":"#ff0000"},"encoding":{"x":{"datum":274},"x2":{"datum":322},"y":{"datum":0.688}}},
{"data":{"values":[{}]},"mark":{"type":"point","shape":"circle","filled":true,"opacity":1,"size":150,"color":"#ff0000"},"encoding":{"x":{"datum":298},"y":{"datum":0.688}}},
{"data":{"values":[{}]},"mark":{"type":"text","fontSize":22,"align":"left","baseline":"middle","color":"black"},"encoding":{"x":{"datum":331},"y":{"datum":0.688},"text":{"value":"PA1"}}}
]}
]
},
{
"width":690,"height":569,
"resolve":{"scale":{"x":"independent","y":"independent","color":"independent","shape":"independent","size":"independent"},"axis":{"x":"independent","y":"independent"}},
"layer":[
{"layer":[
{"data":{"name":"mainB"},"mark":{"type":"line","strokeWidth":1,"color":"black"},
 "encoding":{
  "x":{"field":"E","type":"quantitative","scale":{"domain":[0.2,1.14],"nice":false,"zero":false},
   "axis":{"orient":"bottom","values":[0.2,0.3,0.4,0.5,0.6,0.7,0.8,0.9,1.0,1.1],"labelExpr":"round(datum.value*10)%2==0 ? format(datum.value,'.1f') : ''","labelFontSize":28,"labelFontWeight":"bold","labelPadding":41,"domainWidth":4,"tickWidth":3,"tickSize":{"condition":{"test":"round(datum.value*10)%2==0","value":-17},"value":-8},"title":"Photon Energy (eV)","titleFontSize":42,"titleFontWeight":"bold","titlePadding":7}},
  "y":{"field":"v","type":"quantitative","scale":{"domain":[-0.246,3.25],"nice":false,"zero":false},
   "axis":{"orient":"left","values":[0,0.5,1,1.5,2,2.5,3],"labelExpr":"datum.value%1==0 ? format(datum.value,'d') : ''","labelFontSize":27,"labelFontWeight":"bold","labelPadding":41,"domainWidth":4,"tickWidth":3,"tickSize":{"condition":{"test":"datum.value%1==0","value":-17},"value":-8},"title":"10⁴ (-ΔT/T)","titleFontSize":35,"titleFontWeight":"bold","titleX":-71,"titleY":316,"titleBaseline":"bottom"}}}},
{"data":{"name":"mainB"},"mark":{"type":"point","shape":"square","filled":true,"opacity":1,"size":320,"color":"black"},
 "encoding":{
  "x":{"field":"E","type":"quantitative","scale":{"domain":[0.2,1.14],"nice":false,"zero":false}},
  "y":{"field":"v","type":"quantitative","scale":{"domain":[-0.246,3.25],"nice":false,"zero":false}}}},
{"data":{"values":[{}]},"mark":{"type":"rule","strokeWidth":4,"color":"black"},"encoding":{"y":{"datum":3.25}}},
{"data":{"values":[{}]},"mark":{"type":"text","fontSize":42,"fontWeight":"normal","align":"left","baseline":"middle","color":"black"},"encoding":{"x":{"datum":-0.0262},"y":{"datum":2.955},"text":{"value":"b)"}}},
{"data":{"values":[{}]},"mark":{"type":"text","fontSize":34,"fontWeight":"bold","align":"left","baseline":"middle","color":"black"},"encoding":{"x":{"datum":1.034},"y":{"datum":2.937},"text":{"value":"PA1"}}},
{"data":{"values":[{}]},"mark":{"type":"rule","strokeWidth":1,"color":"black"},"encoding":{"x":{"datum":0.836},"x2":{"datum":0.9182},"y":{"datum":0.154}}},
{"data":{"values":[{}]},"mark":{"type":"point","shape":"square","filled":true,"opacity":1,"size":484,"color":"black"},"encoding":{"x":{"datum":0.8755},"y":{"datum":0.154}}},
{"data":{"values":[{}]},"mark":{"type":"text","fontSize":26,"align":"left","baseline":"middle","color":"black"},"encoding":{"x":{"datum":0.9304},"y":{"datum":0.154},"text":{"value":"RR-a P3HT"}}}
]},
{"layer":[
{"data":{"values":[{}]},"mark":{"type":"rect","filled":false,"stroke":"black","strokeWidth":2.5},
 "encoding":{
  "x":{"datum":-25,"type":"quantitative","scale":{"domain":[-25,251],"range":[106,468],"nice":false,"zero":false},
   "axis":{"orient":"bottom","offset":-295.5,"values":[0,25,50,75,100,125,150,175,200,225,250],"labelExpr":"datum.value%50==0 ? datum.label : ''","labelFontSize":22,"labelPadding":18,"domainWidth":2.5,"tickWidth":2,"tickSize":{"condition":{"test":"datum.value%50==0","value":-8},"value":-5},"title":"Delay (ps)","titleFontSize":26,"titleFontWeight":"normal","titlePadding":16}},
  "x2":{"datum":251},
  "y":{"datum":-0.11,"type":"quantitative","scale":{"domain":[-0.11,1.255],"range":[273.5,68.4],"nice":false,"zero":false},
   "axis":{"orient":"left","offset":-106,"values":[0,0.25,0.5,0.75,1],"labelExpr":"(datum.value*2)%1==0 ? format(datum.value,'.1f') : ''","labelFontSize":22,"labelPadding":18,"domainWidth":2.5,"tickWidth":2,"tickSize":{"condition":{"test":"(datum.value*2)%1==0","value":-8},"value":-5},"title":"-ΔT Normalized","titleFontSize":26,"titleFontWeight":"normal","titlePadding":4}},
  "y2":{"datum":1.255}}},
{"data":{"name":"insetB"},"transform":[{"filter":"datum.t <= 3"}],"mark":{"type":"line","strokeWidth":2},
 "encoding":{
  "x":{"field":"t","type":"quantitative"},
  "y":{"field":"v","type":"quantitative"},
  "color":{"field":"s","type":"nominal","scale":{"domain":["0.95eV","0.55eV"],"range":["#000000","#ff0000"]},"legend":null}}},
{"data":{"name":"insetB"},"mark":{"type":"point","filled":true,"opacity":1,"size":28},
 "encoding":{
  "x":{"field":"t","type":"quantitative"},
  "y":{"field":"v","type":"quantitative"},
  "color":{"field":"s","type":"nominal","scale":{"domain":["0.95eV","0.55eV"],"range":["#000000","#ff0000"]},"legend":null},
  "shape":{"field":"s","type":"nominal","scale":{"domain":["0.95eV","0.55eV"],"range":["square","circle"]},"legend":null}}},
{"data":{"values":[{}]},"mark":{"type":"rule","strokeWidth":2,"color":"black"},"encoding":{"x":{"datum":146},"x2":{"datum":177},"y":{"datum":1.074}}},
{"data":{"values":[{}]},"mark":{"type":"point","shape":"square","filled":true,"opacity":1,"size":130,"color":"black"},"encoding":{"x":{"datum":160.8},"y":{"datum":1.074}}},
{"data":{"values":[{}]},"mark":{"type":"text","fontSize":22,"align":"left","baseline":"middle","color":"black"},"encoding":{"x":{"datum":182},"y":{"datum":1.074},"text":{"value":"0.95eV"}}},
{"data":{"values":[{}]},"mark":{"type":"rule","strokeWidth":2,"color":"#ff0000"},"encoding":{"x":{"datum":146},"x2":{"datum":177},"y":{"datum":0.885}}},
{"data":{"values":[{}]},"mark":{"type":"point","shape":"circle","filled":true,"opacity":1,"size":150,"color":"#ff0000"},"encoding":{"x":{"datum":160.8},"y":{"datum":0.885}}},
{"data":{"values":[{}]},"mark":{"type":"text","fontSize":22,"align":"left","baseline":"middle","color":"black"},"encoding":{"x":{"datum":182},"y":{"datum":0.885},"text":{"value":"0.55eV"}}}
]}
]
}
]
}
